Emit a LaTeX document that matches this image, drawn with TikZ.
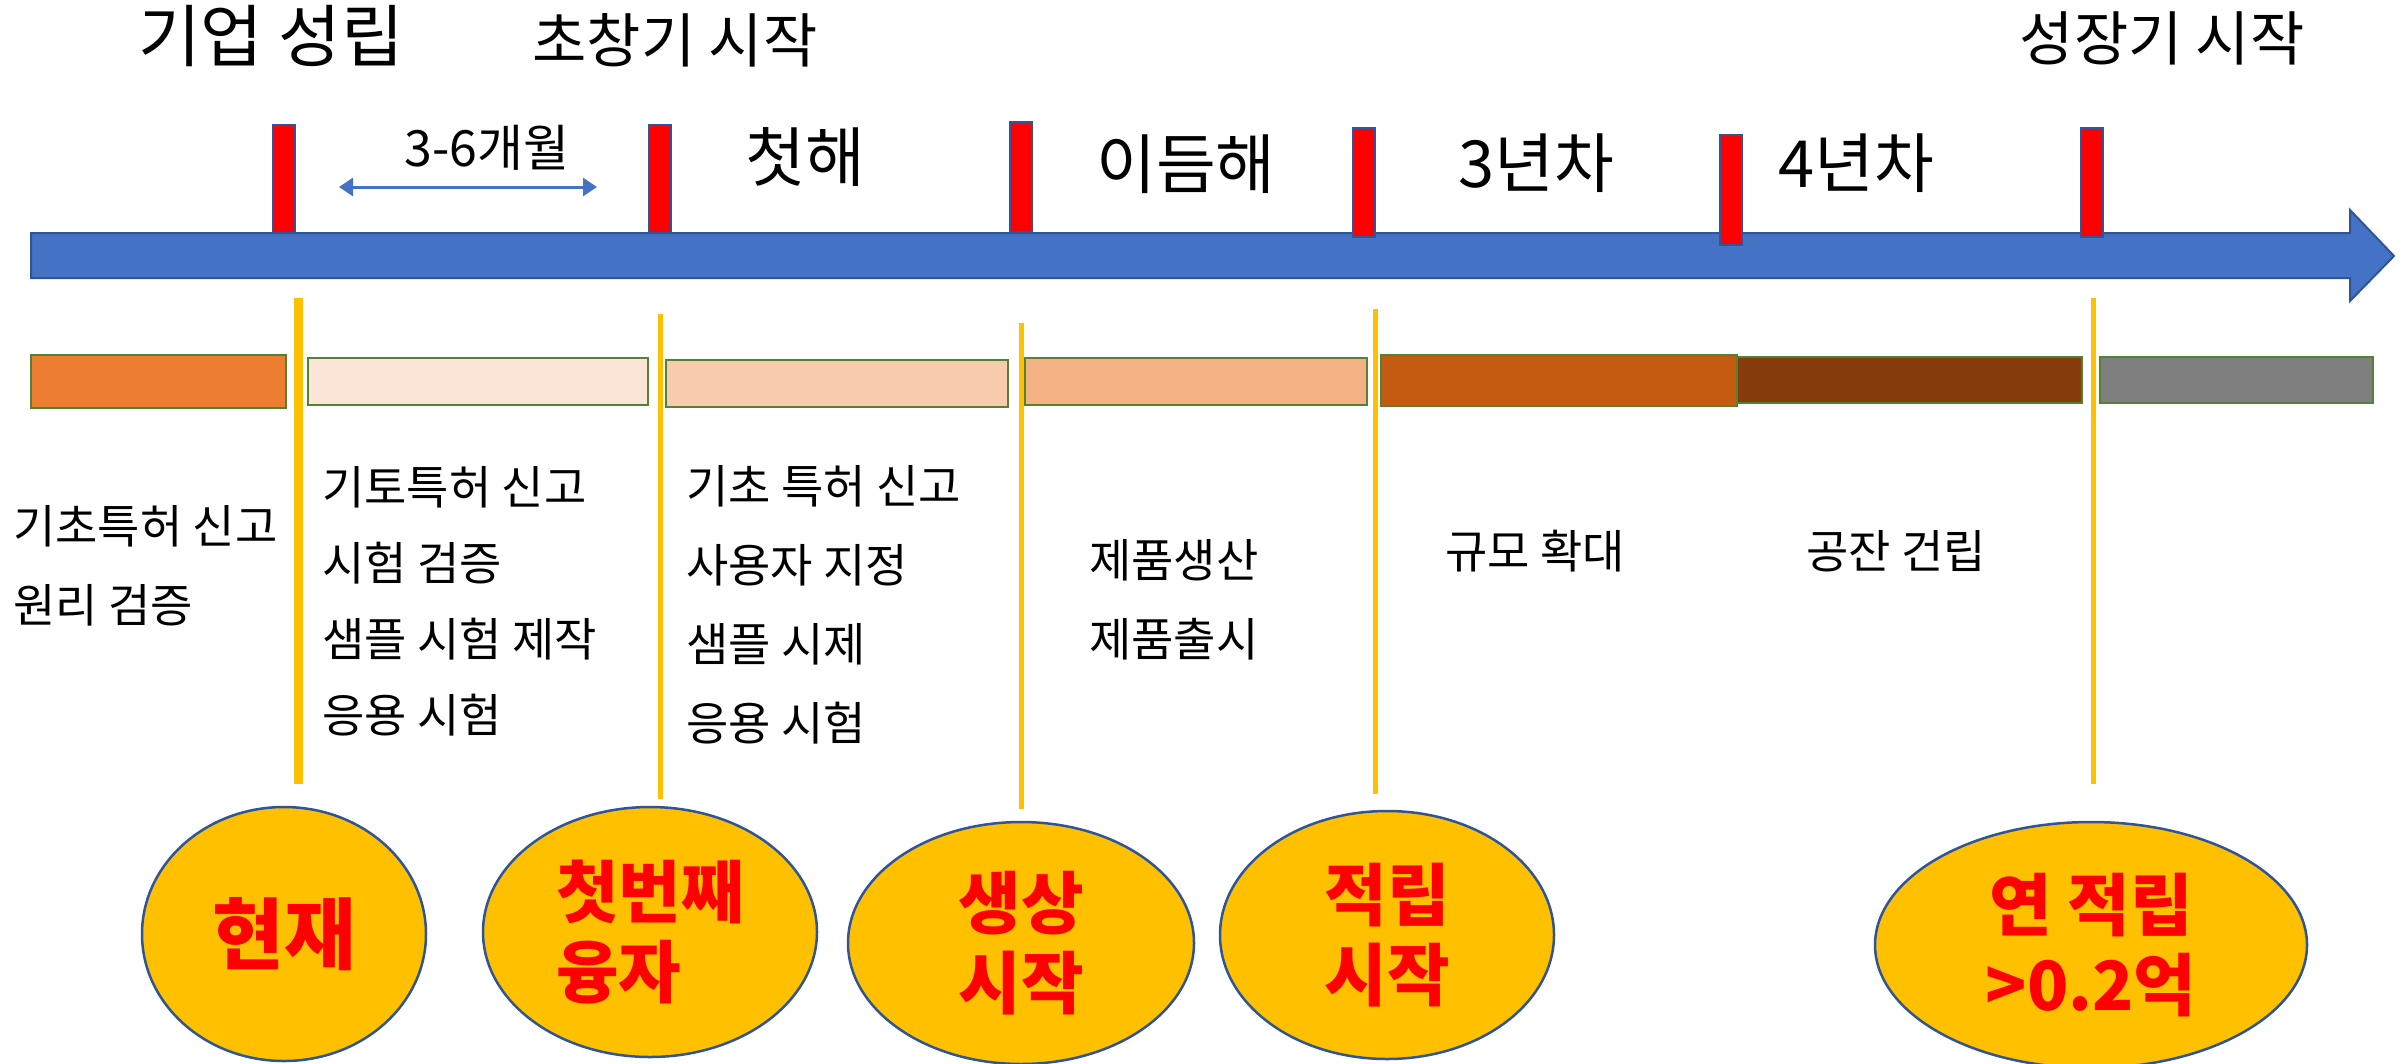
\documentclass[tikz,border=0pt]{standalone}
\usepackage{fontspec}
\setmainfont{Noto Sans CJK KR}
\usetikzlibrary{shapes.geometric,arrows.meta}

\definecolor{timeblue}{HTML}{4472C4}
\definecolor{edgeblue}{HTML}{2F5597}
\definecolor{goldline}{HTML}{FFC000}
\definecolor{bargreen}{HTML}{548235}
\definecolor{phaseA}{HTML}{ED7D31}
\definecolor{phaseB}{HTML}{FBE5D6}
\definecolor{phaseC}{HTML}{F8CBAD}
\definecolor{phaseD}{HTML}{F4B183}
\definecolor{phaseE}{HTML}{C55A11}
\definecolor{phaseF}{HTML}{843C0C}
\definecolor{phaseG}{HTML}{7F7F7F}

\newcommand{\headfont}{\fontsize{68}{76}\selectfont}
\newcommand{\stagefont}{\fontsize{59}{66}\selectfont}
\newcommand{\yearfont}{\fontsize{65}{72}\selectfont}
\newcommand{\spanfont}{\fontsize{50}{56}\selectfont}
\newcommand{\notefont}{\fontsize{46}{79}\selectfont}
\newcommand{\goalfont}{\fontsize{68}{80}\selectfont\bfseries}

\begin{document}
\begin{tikzpicture}[x=1pt,y=-1pt,
    tickmark/.style={fill=red, draw=edgeblue, line width=2pt},
    phasebar/.style={draw=bargreen, line width=2.5pt},
    notes/.style={anchor=west, align=left, inner sep=0pt, font=\notefont},
    goal/.style={ellipse, fill=goldline, draw=edgeblue, line width=2.5pt, text=red,
        font=\goalfont, align=center, inner sep=0pt}]
    \useasboundingbox (0,0) rectangle (2405,1063);

    % time axis
    \draw[fill=timeblue, draw=edgeblue, line width=2pt]
        (31,233) -- (2350,233) -- (2350,210) -- (2394,256) -- (2350,301) -- (2350,278) -- (31,278) -- cycle;
    \foreach \x/\t/\b in {284/125/233, 660/125/233, 1021/122/232, 1364/128/237, 1731/135/245, 2092/128/237}{
        \draw[tickmark] (\x-11,\t) rectangle (\x+11,\b);
    }

    % headings
    \node[font=\headfont]  (founding)    at (271,36)  {기업 성립};
    \node[font=\stagefont] (earlystart)  at (675,40)  {초창기 시작};
    \node[font=\stagefont] (growthstart) at (2162,38) {성장기 시작};
    \node[font=\spanfont]  (span)        at (487,148) {3-6개월};
    \node[font=\yearfont]  (yearone)     at (805,157) {첫해};
    \node[font=\yearfont]  (yeartwo)     at (1186,164) {이듬해};
    \node[font=\yearfont]  (yearthree)   at (1536,163) {3년차};
    \node[font=\yearfont]  (yearfour)    at (1856,163) {4년차};

    \coordinate (spanL) at (339,187);
    \coordinate (spanR) at (597,187);
    \draw[timeblue, line width=3pt, {Triangle[length=14pt,width=18pt]}-{Triangle[length=14pt,width=18pt]}] (spanL) -- (spanR);

    % phase bars
    \foreach \l/\r/\t/\b/\c in {31/286/355/408/phaseA, 308/648/358/405/phaseB, 666/1008/360/407/phaseC,
        1025/1367/358/405/phaseD, 1381/1737/355/406/phaseE, 1737/2082/357/403/phaseF, 2100/2373/357/403/phaseG}{
        \draw[phasebar, fill=\c] (\l,\t) rectangle (\r,\b);
    }

    % dividers
    \foreach \x/\t/\b/\w in {298/298/784/9, 660/314/799/5, 1021/323/809/5, 1375/309/794/5, 2093/298/784/5}{
        \draw[goldline, line width=\w pt] (\x,\t) -- (\x,\b);
    }

    % notes
    \node[notes] (notesA) at (13,566)   {기초특허 신고\\원리 검증};
    \node[notes, font=\fontsize{46}{76}\selectfont] (notesB) at (322,601) {기토특허 신고\\시험 검증\\샘플 시험 제작\\응용 시험};
    \node[notes] (notesC) at (686,605)  {기초 특허 신고\\사용자 지정\\샘플 시제\\응용 시험};
    \node[notes] (notesD) at (1089,600) {제품생산\\제품출시};
    \node[notes] (notesE) at (1445,551) {규모 확대};
    \node[notes] (notesF) at (1806,551) {공잔 건립};

    % goals
    \node[goal, minimum width=284, minimum height=254, font=\fontsize{78}{80}\selectfont\bfseries] (now) at (284,934) {현재};
    \node[goal, minimum width=334, minimum height=250, align=left] (loan) at (650,932) {첫번째\\융자};
    \node[goal, minimum width=346, minimum height=242] (prod)   at (1021,943) {생상\\시작};
    \node[goal, minimum width=334, minimum height=248] (saving) at (1387,935) {적립\\시작};
    \node[goal, minimum width=432, minimum height=246] (annual) at (2091,945) {연 적립\\>0.2억};
\end{tikzpicture}
\end{document}
